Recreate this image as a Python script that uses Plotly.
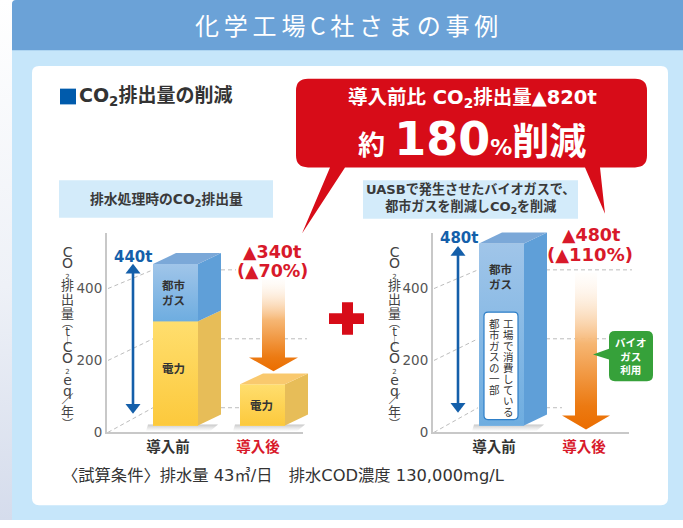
import plotly.graph_objects as go

# ---------- data ----------
categories = ["導入前", "導入後"]
left_power = [284, 112]
left_gas = [156, 0]
right_gas = [480, 0]
tick_values = [0, 200, 400]
left_total_label = "440t"
right_total_label = "480t"
left_delta = ["▲340t", "(▲70%)"]
right_delta = ["▲480t", "(▲110%)"]

W, H = 683, 528
FONT = "DejaVu Sans, Noto Sans CJK JP"
CJK = "Noto Sans CJK JP"
DARK = "#333333"
RED = "#D70C18"
TXT_RED = "#D8192A"
BLUE = "#145FAA"
AX = "#C8C8C8"
GRID = "#BDBDBD"
TS = 0.365            # tick-axis px per unit
DX, DY = 23, 11       # oblique depth of the boxes, px

fig = go.Figure()

def dom_x(a, b): return [a / W, b / W]
def dom_y(bottom, top): return [(H - bottom) / H, (H - top) / H]

def rr(x0, y0, x1, y1, r, corners="tl tr br bl"):
    c = corners.split()
    p = f"M{x0 + (r if 'tl' in c else 0)},{y0} L{x1 - (r if 'tr' in c else 0)},{y0} "
    if 'tr' in c: p += f"Q{x1},{y0} {x1},{y0 + r} "
    p += f"L{x1},{y1 - (r if 'br' in c else 0)} "
    if 'br' in c: p += f"Q{x1},{y1} {x1 - r},{y1} "
    p += f"L{x0 + (r if 'bl' in c else 0)},{y1} "
    if 'bl' in c: p += f"Q{x0},{y1} {x0},{y1 - r} "
    p += f"L{x0},{y0 + (r if 'tl' in c else 0)} "
    if 'tl' in c: p += f"Q{x0},{y0} {x0 + r},{y0} "
    return p + "Z"

def shape(path, color, layer="below", line=None, lw=0):
    fig.add_shape(type="path", path=path, xref="x", yref="y", layer=layer,
                  fillcolor=color, line=dict(color=line or color, width=lw))

def poly(xs, ys, axes, color=None, grad=None, gtype="vertical", name=""):
    # colour scale position 0 is the bottom of the filled area on screen
    kw = dict(fillgradient=dict(type=gtype, colorscale=grad)) if grad else dict(fillcolor=color)
    fig.add_trace(go.Scatter(x=list(xs) + [xs[0]], y=list(ys) + [ys[0]], mode="lines",
                             fill="toself", line=dict(width=0), hoverinfo="skip",
                             showlegend=False, name=name, xaxis=axes[0], yaxis=axes[1], **kw))

def note(x, y, text, size, color=DARK, xa="center", ya="middle", family=FONT, align="center"):
    fig.add_annotation(x=x / W, y=(H - y) / H, xref="paper", yref="paper", text=text, showarrow=False,
                       font=dict(size=size, color=color, family=family), xanchor=xa, yanchor=ya,
                       align=align, borderpad=0, borderwidth=0)

# ---------- panels (pixel layer) ----------
UNDER = ("x", "y")
TOP = ("x6", "y6")
poly([0, 12, 12, 0], [0, 0, 528, 528], UNDER,
     grad=[[0, "#D5DCEC"], [0.45, "#EEF1F7"], [1, "#FFFFFF"]])
shape(rr(12, 0, 700, 540, 5), "#C6E6FA")
shape(rr(12, 0, 700, 51, 4, "tl"), "#6BA2D7")
shape(rr(32, 67, 668, 513, 7), "#FFFFFF")
shape(rr(59, 183, 273, 221, 0, ""), "#D3EBFA")
shape(rr(363, 183, 578, 222, 0, ""), "#D3EBFA")
shape(rr(60, 90, 76, 106, 0, ""), "#005BAC")
shape("M308,80 L635,80 Q647,80 647,92 L647,158 Q647,170 635,170 L600,170 L605,217 L585,170 "
      "L345,170 L302,237 L330,170 L308,170 Q296,170 296,158 L296,92 Q296,80 308,80 Z", RED)
shape("M342,307 L353,307 L353,318 L364,318 L364,329 L353,329 L353,340 L342,340 L342,329 "
      "L329,329 L329,318 L342,318 Z", RED)

# perspective guide lines (tick value -> front plane and back wall)
def guides(ax_x, wall_x, bar_r, front0, back0, ends):
    for v, end in zip(tick_values, ends):
        fy = front0 - v * TS
        by = back0 - v * 0.35
        fig.add_trace(go.Scatter(x=[ax_x, wall_x, None, bar_r, end], y=[fy, by, None, by, by], mode="lines",
                                 line=dict(color=GRID, width=1, dash="4px,3px"), showlegend=False,
                                 hoverinfo="skip", xaxis="x", yaxis="y"))

guides(108, 153, 221, 439, 414, [240, 307, 236])
guides(434, 478, 546, 439, 414, [562, 632, 632])

# floor shadows
SHADOW = [[0, "rgba(120,120,120,0)"], [1, "rgba(70,70,70,0.3)"]]
for x0, x1 in [(153, 198), (240, 285), (479, 524)]:
    poly([x0 - 5, x1 + 20, x1 + 12, x0 - 7], [431, 431, 438, 438], UNDER, grad=SHADOW)

# ---------- chart helper ----------
def chart(tick_ids, bar_ids, tick_box, bar_box, c0, unit, p0, scale, power, gas, label_pos):
    L, R = tick_box
    tx = (L - c0) / unit, (R - c0) / unit
    fig.add_trace(go.Scatter(x=[tx[0]], y=[0], mode="markers", marker=dict(opacity=0), showlegend=False,
                             hoverinfo="skip", xaxis=tick_ids[0], yaxis=tick_ids[1]))
    tick_text = [f"<b>{categories[0]}</b>",
                 f"<b><span style='color:{TXT_RED}'>{categories[1]}</span></b>"]
    xk = "xaxis" + tick_ids[0][1:]
    yk = "yaxis" + tick_ids[1][1:]
    fig.update_layout(**{
        xk: dict(domain=dom_x(L, R), range=list(tx), anchor=tick_ids[1], showgrid=False, zeroline=False,
                 showline=True, linecolor=AX, linewidth=2, ticks="", tickmode="array",
                 tickvals=[(p - c0) / unit for p in label_pos], ticktext=tick_text,
                 tickfont=dict(size=14.5, color=DARK, family=CJK)),
        yk: dict(domain=dom_y(439, 237), range=[0, 202 / TS], anchor=tick_ids[0], showgrid=False, zeroline=False,
                 showline=True, linecolor=AX, linewidth=2, ticks="", tickmode="array",
                 tickvals=tick_values, tickfont=dict(size=13.5, color="#555555", family=FONT)),
    })
    # value axes for the boxes
    BL, BR, BB, BT = bar_box
    xk = "xaxis" + bar_ids[0][1:]
    yk = "yaxis" + bar_ids[1][1:]
    fig.update_layout(**{
        xk: dict(domain=dom_x(BL, BR), range=[(BL - c0) / unit, (BR - c0) / unit], visible=False,
                 showticklabels=False, anchor=bar_ids[1]),
        yk: dict(domain=dom_y(BB, BT), range=[(p0 - BB) / scale, (p0 - BT) / scale], visible=False,
                 showticklabels=False, anchor=bar_ids[0]),
    })
    dx, dy = DX / unit, DY / scale
    hw = 22.5 / unit
    xs = [0, 1]
    fig.add_trace(go.Bar(x=xs, y=power, width=45 / unit, marker=dict(color="#FDD257", line=dict(width=0)),
                         showlegend=False, hoverinfo="skip", xaxis=bar_ids[0], yaxis=bar_ids[1], name="電力"))
    fig.add_trace(go.Bar(x=xs, y=gas, width=45 / unit, marker=dict(color="#85B8E4", line=dict(width=0)),
                         showlegend=False, hoverinfo="skip", xaxis=bar_ids[0], yaxis=bar_ids[1], name="都市ガス"))
    A = bar_ids
    for i in xs:
        a, b = i - hw, i + hw
        pw, g = power[i], gas[i]
        total = pw + g
        if total == 0:
            continue
        if pw:
            poly([a, b, b, a], [0, 0, pw, pw], A, grad=[[0, "#FCC93C"], [1, "#FFDE6E"]])
            poly([b, b + dx, b + dx, b], [0, dy, pw + dy, pw], A, color="#E7BD58")
        if g:
            poly([a, b, b, a], [pw, pw, total, total], A, grad=[[0, "#6EADE0"], [1, "#A0C5E9"]])
            poly([b, b + dx, b + dx, b], [pw, pw + dy, total + dy, total], A, color="#5F9FD8")
        top_col = "#7BA8D8" if g else "#F9C96E"
        poly([a, b, b + dx, a + dx], [total, total, total + dy, total + dy], A, color=top_col)

fig.update_layout(barmode="stack", bargap=0)

# left: front boxes 153-198 and 240-285
chart(("x2", "y2"), ("x3", "y3"), (107, 303), (107, 330, 439, 225), 175.5, 87, 432, 0.3727,
      left_power, left_gas, (168, 258))
# right: front box 479-524
chart(("x4", "y4"), ("x5", "y5"), (433, 629), (433, 640, 439, 225), 501.5, 85, 432, 0.385,
      [0, 0], right_gas, (494, 584))

# ---------- top pixel layer: arrows ----------
ARROW = [[0, "#EB6D00"], [0.15, "#EC7A12"], [0.55, "#F6B673"], [1, "rgba(255,245,235,0.15)"]]
for cxl, cxr, hl, hr, top, neck, tip in [(262, 285, 249, 298, 283, 363, 377),
                                         (575, 597, 562, 610, 277, 422, 436)]:
    poly([cxl, cxr, cxr, hr, (hl + hr) / 2, hl, cxl], [top, top, neck, neck, tip, neck, neck], TOP, grad=ARROW)

for x, y0, y1 in [(133, 274.5, 413.5), (458, 256.5, 412.5)]:
    fig.add_trace(go.Scatter(x=[x, x], y=[y0, y1], mode="lines+markers",
                             line=dict(color=BLUE, width=2.6),
                             marker=dict(symbol=["triangle-up", "triangle-down"], size=13, color=BLUE,
                                         line=dict(width=0)),
                             showlegend=False, hoverinfo="skip", xaxis="x6", yaxis="y6"))

# white note box and green callout above the marks
shape(rr(484, 317, 518, 426, 4), "#FFFFFF", layer="above", line="#2E7FC8", lw=1.2)
shape("M615,336 L647,336 Q653,336 653,342 L653,381 Q653,387 647,387 L615,387 Q609,387 609,381 L609,365 "
      "L593,360 L609,354 L609,342 Q609,336 615,336 Z", "#36A13A", layer="above")

# ---------- axes for pixel layers ----------
for k, ya in (("", "y"), ("6", "y6")):
    fig.update_layout(**{
        f"xaxis{k}": dict(domain=[0, 1], range=[0, W], visible=False, showticklabels=False, anchor=ya, fixedrange=True),
        f"yaxis{k}": dict(domain=[0, 1], range=[H, 0], visible=False, showticklabels=False, anchor="x" + k, fixedrange=True),
    })

# ---------- text ----------
note(346, 25, "化\u2009学\u2009工\u2009場\u2009C\u2009社\u2009さ\u2009ま\u2009の\u2009事\u2009例", 24, "#FFFFFF", family=CJK)
note(79, 98, "<b>CO<sub>2</sub>排出量の削減</b>", 19, DARK, xa="left")
note(472, 100, "<b>導入前比 CO<sub>2</sub>排出量▲820t</b>", 19.5, "#FFFFFF")
note(472, 141, "<b><span style='font-size:27px'>約</span><span style='font-size:46px'>\u2009180</span>"
               "<span style='font-size:22px'>%</span><span style='font-size:37px'>削減</span></b>", 27, "#FFFFFF")
note(166, 203, "<b>排水処理時のCO<sub>2</sub>排出量</b>", 13.8, "#3A3A3A")
note(470, 202, "<b>UASBで発生させたバイオガスで、<br>都市ガスを削減しCO<sub>2</sub>を削減</b>", 13.1, "#3A3A3A")

note(133, 261, f"<b>{left_total_label}</b>", 15, BLUE)
note(459, 242, f"<b>{right_total_label}</b>", 15, BLUE)
note(272, 256, f"<b>{left_delta[0]}</b>", 17.5, TXT_RED)
note(272, 275, f"<b>{left_delta[1]}</b>", 17.5, TXT_RED)
note(591, 239, f"<b>{right_delta[0]}</b>", 17.5, TXT_RED)
note(590, 258, f"<b>{right_delta[1]}</b>", 18, TXT_RED)

note(174, 297, "<b>都市<br>ガス</b>", 11.5, DARK, family=CJK)
note(173, 374, "<b>電力</b>", 11.5, DARK, family=CJK)
note(261, 411, "<b>電力</b>", 11.5, DARK, family=CJK)
note(501, 281, "<b>都市<br>ガス</b>", 11.5, DARK, family=CJK)

def stack(s, px): return "<br>".join(f"<span style='font-size:{px}px'>{c}</span>" for c in s)
note(508, 321, stack("工場で消費している", 10.5), 8.5, DARK, ya="top", family=CJK)
note(494, 321, stack("都市ガスの一部", 10.5), 8.5, DARK, ya="top", family=CJK)
note(631, 361, "<b>バイオ<br>ガス<br>利用</b>", 10.5, "#FFFFFF", family=CJK)

# vertical axis title: groups of stacked glyphs  (glyphs, glyph px, line px base, centre row)
sub = "<span style='font-size:7px'>2</span>"
big = "<span style='font-size:14px'>{}</span>"
title_groups = [
    ("<br>".join([big.format("C"), big.format("O"), sub]), 8.5, 267),
    (stack("排出量", 13), 10.8, 304),
    ("<br>".join(["<span style='font-size:11px'>︵</span>", "<span style='font-size:12px'>t</span>",
                  "<span style='font-size:9px'>｜</span>"]), 6.6, 337),
    ("<br>".join([big.format("C"), big.format("O"), sub, big.format("e"), big.format("q")]), 8.5, 375),
    ("<br>".join(["<span style='font-size:12px'>／</span>", "<span style='font-size:13px'>年</span>",
                  "<span style='font-size:11px'>︶</span>"]), 9.2, 418),
]
for cx in (67, 394):
    for text, base, row in title_groups:
        note(cx, row, text, base, "#444444")

note(62, 483, "〈試算条件〉排水量 43㎥/日　排水COD濃度 130,000mg/L", 16.3, DARK, xa="left", family=FONT)

fig.update_layout(width=W, height=H, margin=dict(l=0, r=0, t=0, b=0), autosize=False,
                  paper_bgcolor="#FFFFFF", plot_bgcolor="rgba(0,0,0,0)", showlegend=False,
                  font=dict(family=FONT))
fig.write_html("out.html", config=dict(displayModeBar=False), post_script="document.body.style.margin='0';")
